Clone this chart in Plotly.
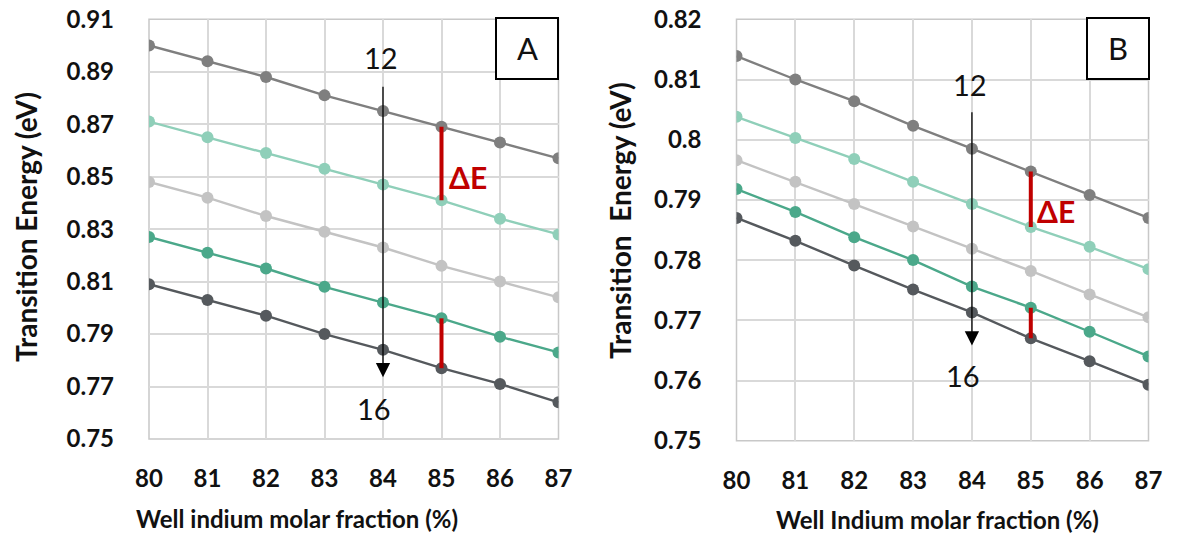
import plotly.graph_objects as go

x_vals = [80, 81, 82, 83, 84, 85, 86, 87]

# Panel A series (eV)
a_s1 = [0.900, 0.894, 0.888, 0.881, 0.875, 0.869, 0.863, 0.857]
a_s2 = [0.871, 0.865, 0.859, 0.853, 0.847, 0.841, 0.834, 0.828]
a_s3 = [0.848, 0.842, 0.835, 0.829, 0.823, 0.816, 0.810, 0.804]
a_s4 = [0.827, 0.821, 0.815, 0.808, 0.802, 0.796, 0.789, 0.783]
a_s5 = [0.809, 0.803, 0.797, 0.790, 0.784, 0.777, 0.771, 0.764]

# Panel B series (eV)
b_s1 = [0.8139, 0.8100, 0.8064, 0.8023, 0.7985, 0.7947, 0.7908, 0.7870]
b_s2 = [0.8038, 0.8003, 0.7968, 0.7930, 0.7893, 0.7855, 0.7822, 0.7785]
b_s3 = [0.7966, 0.7930, 0.7893, 0.7856, 0.7819, 0.7782, 0.7743, 0.7705]
b_s4 = [0.7918, 0.7880, 0.7838, 0.7800, 0.7756, 0.7721, 0.7681, 0.7640]
b_s5 = [0.7870, 0.7832, 0.7791, 0.7751, 0.7713, 0.7670, 0.7632, 0.7593]

a_ticks = [0.75, 0.77, 0.79, 0.81, 0.83, 0.85, 0.87, 0.89, 0.91]
a_ticktext = ["0.75", "0.77", "0.79", "0.81", "0.83", "0.85", "0.87", "0.89", "0.91"]
b_ticks = [0.75, 0.76, 0.77, 0.78, 0.79, 0.80, 0.81, 0.82]
b_ticktext = ["0.75", "0.76", "0.77", "0.78", "0.79", "0.8", "0.81", "0.82"]
x_ticktext = ["80", "81", "82", "83", "84", "85", "86", "87"]

colors = ["#7f7f7f", "#8fcfb9", "#c3c3c3", "#4ba88a", "#55595d"]

# arrow annotation data positions (x, start y, tip y)
a_arrow = (84, 0.8849, 0.7735)
b_arrow = (84, 0.8048, 0.7658)

W, H = 1178, 535
FONT = "Lato"

fig = go.Figure()

def add_panel(series_list, xa, ya):
    for s, c in zip(series_list, colors):
        fig.add_trace(go.Scatter(
            x=x_vals, y=s, mode="lines+markers", xaxis=xa, yaxis=ya,
            line=dict(color=c, width=2.4), marker=dict(color=c, size=12),
            showlegend=False, hoverinfo="skip"))

a_series = [a_s1, a_s2, a_s3, a_s4, a_s5]
b_series = [b_s1, b_s2, b_s3, b_s4, b_s5]
add_panel(a_series, "x", "y")
add_panel(b_series, "x2", "y2")

# red Delta-E bars (from series at x = 85)
idx = x_vals.index(85)
for xa, ya, ser in [("x", "y", a_series), ("x2", "y2", b_series)]:
    for top, bot in [(ser[0], ser[1]), (ser[3], ser[4])]:
        fig.add_trace(go.Scatter(
            x=[85, 85], y=[top[idx], bot[idx]], mode="lines", xaxis=xa, yaxis=ya,
            line=dict(color="#c00000", width=4), showlegend=False, hoverinfo="skip"))

axis_common = dict(
    showgrid=True, gridcolor="#d9d9d9", gridwidth=1.5,
    zeroline=False, showline=False,
    tickfont=dict(family=FONT, size=24, color="#111111", weight="bold"),
)

xdomA = [149 / W, 558.5 / W]
xdomB = [736.5 / W, 1148.5 / W]
ydomA = [(H - 439) / H, (H - 19.3) / H]
ydomB = [(H - 440.7) / H, (H - 19.3) / H]

fig.update_layout(
    width=W, height=H,
    margin=dict(l=0, r=0, t=0, b=0, autoexpand=False),
    paper_bgcolor="white", plot_bgcolor="white",
    xaxis=dict(domain=xdomA, anchor="y", range=[80, 87], tickvals=x_vals, ticktext=x_ticktext,
               ticklabelstandoff=23, **axis_common),
    yaxis=dict(domain=ydomA, anchor="x", range=[0.75, 0.91], tickvals=a_ticks, ticktext=a_ticktext,
               ticklabelstandoff=34, **axis_common),
    xaxis2=dict(domain=xdomB, anchor="y2", range=[80, 87], tickvals=x_vals, ticktext=x_ticktext,
                ticklabelstandoff=23, **axis_common),
    yaxis2=dict(domain=ydomB, anchor="x2", range=[0.75, 0.82], tickvals=b_ticks, ticktext=b_ticktext,
                ticklabelstandoff=34, **axis_common),
)

# axis borders
for xa, ya in [("x", "y"), ("x2", "y2")]:
    fig.add_shape(type="rect", xref=xa + " domain", yref=ya + " domain", x0=0, x1=1, y0=0, y1=1,
                  line=dict(color="#c8c8c8", width=1.5), layer="below")

ann = []
xt_font = dict(family=FONT, size=24, color="#111111", weight="bold")
yt_font = dict(family=FONT, size=28, color="#111111", weight="bold")
# axis titles
ann.append(dict(text="Well indium molar fraction (%)", xref="paper", yref="paper",
                x=297 / W, y=(H - 518) / H, xanchor="center", yanchor="middle",
                showarrow=False, font=xt_font))
ann.append(dict(text="Well Indium molar fraction (%)", xref="paper", yref="paper",
                x=937 / W, y=(H - 519) / H, xanchor="center", yanchor="middle",
                showarrow=False, font=xt_font))
ann.append(dict(text="Transition Energy (eV)", xref="paper", yref="paper",
                x=26 / W, y=(H - 227) / H, textangle=-90, xanchor="center", yanchor="middle",
                showarrow=False, font=yt_font))
ann.append(dict(text="Transition  Energy (eV)", xref="paper", yref="paper",
                x=620 / W, y=(H - 221) / H, textangle=-90, xanchor="center", yanchor="middle",
                showarrow=False, font=yt_font))

# arrows and labels
for xa, ya, (ax_x, y0, y1), ytop, ybot in [("x", "y", a_arrow, 0.8956, 0.7616),
                                           ("x2", "y2", b_arrow, 0.8091, 0.7608)]:
    ann.append(dict(x=ax_x, y=y1, ax=ax_x, ay=y0, xref=xa, yref=ya, axref=xa, ayref=ya,
                    text="", showarrow=True, arrowhead=2, arrowsize=2.2, arrowwidth=1.3,
                    arrowcolor="#000000"))
    ann.append(dict(x=ax_x - 0.03, y=ytop, xref=xa, yref=ya, text="12", showarrow=False,
                    xanchor="center", yanchor="middle",
                    font=dict(family=FONT, size=29, color="#111111")))
    ann.append(dict(x=ax_x - 0.15, y=ybot, xref=xa, yref=ya, text="16", showarrow=False,
                    xanchor="center", yanchor="middle",
                    font=dict(family=FONT, size=29, color="#111111")))

# Delta E labels
ann.append(dict(x=85.1, y=0.850, xref="x", yref="y", text="ΔE", showarrow=False,
                xanchor="left", yanchor="middle",
                font=dict(family=FONT, size=30, color="#c00000", weight="bold")))
ann.append(dict(x=85.08, y=0.7882, xref="x2", yref="y2", text="ΔE", showarrow=False,
                xanchor="left", yanchor="middle",
                font=dict(family=FONT, size=30, color="#c00000", weight="bold")))

# panel labels A / B
for label, x0, x1 in [("A", 496, 558), ("B", 1087, 1149)]:
    fig.add_shape(type="rect", xref="paper", yref="paper",
                  x0=x0 / W, x1=x1 / W, y0=(H - 79) / H, y1=(H - 18) / H,
                  line=dict(color="black", width=2), fillcolor="white", layer="above")
    ann.append(dict(text=label, xref="paper", yref="paper", x=(x0 + x1) / 2 / W, y=(H - 48) / H,
                    xanchor="center", yanchor="middle",
                    showarrow=False, font=dict(family=FONT, size=31, color="#111111")))

fig.update_layout(annotations=ann)
fig.write_html("out.html")
